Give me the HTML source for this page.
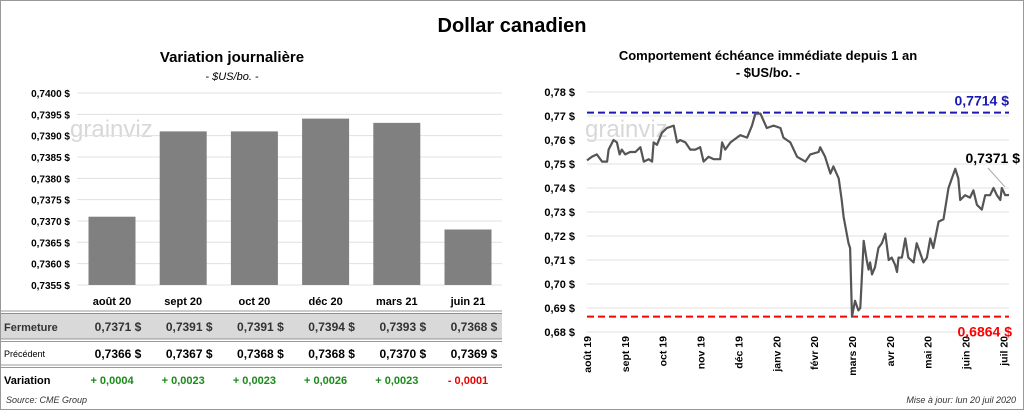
<!DOCTYPE html>
<html><head><meta charset="utf-8"><style>
body{margin:0;width:1024px;height:410px;overflow:hidden;background:#fff;font-family:"Liberation Sans",sans-serif}
svg text{font-family:"Liberation Sans",sans-serif}
</style></head><body>
<svg id="s" width="1024" height="410">
<rect x="0.5" y="0.5" width="1023" height="409" fill="#fff" stroke="#999"/>
<text x="512" y="32" text-anchor="middle" font-size="20" font-weight="bold" fill="#000">Dollar canadien</text>
<text x="232" y="62" text-anchor="middle" font-size="15" font-weight="bold">Variation  journalière</text>
<text x="232" y="80" text-anchor="middle" font-size="11" font-style="italic">- $US/bo. -</text>
<text x="768" y="60" text-anchor="middle" font-size="13" font-weight="bold">Comportement échéance immédiate depuis 1 an</text>
<text x="768" y="77" text-anchor="middle" font-size="13" font-weight="bold">- $US/bo. -</text>
<text x="70" y="137" font-size="24" fill="#d8d8d8">grainviz</text>
<text x="585" y="137" font-size="24" fill="#d8d8d8">grainviz</text>
<g id="left"></g><g id="right"></g><g id="table"></g>
<text x="6" y="403" font-size="9" font-style="italic" fill="#333">Source: CME Group</text>
<text x="1016" y="403" text-anchor="end" font-size="9" font-style="italic" fill="#333">Mise à jour: lun 20 juil 2020</text>
</svg>
<script>
const barCats=["août 20","sept 20","oct 20","déc 20","mars 21","juin 21"];
const closeVals=[0.7371,0.7391,0.7391,0.7394,0.7393,0.7368];
const prevVals=[0.7366,0.7367,0.7368,0.7368,0.7370,0.7369];
const varLabels=["+ 0,0004","+ 0,0023","+ 0,0023","+ 0,0026","+ 0,0023","- 0,0001"];
const leftTicks=[0.7400,0.7395,0.7390,0.7385,0.7380,0.7375,0.7370,0.7365,0.7360,0.7355];
const monthLabels=["août 19","sept 19","oct 19","nov 19","déc 19","janv 20","févr 20","mars 20","avr 20","mai 20","juin 20","juil 20"];
const rightTicks=[0.78,0.77,0.76,0.75,0.74,0.73,0.72,0.71,0.70,0.69,0.68];
const lineT=[0,0.13,0.26,0.40,0.53,0.57,0.70,0.79,0.86,0.92,1.01,1.14,1.28,1.41,1.50,1.63,1.72,1.76,1.85,1.98,2.11,2.29,2.38,2.46,2.60,2.73,2.86,2.99,3.08,3.21,3.35,3.52,3.57,3.65,3.79,3.96,4.05,4.23,4.36,4.45,4.58,4.75,4.93,5.11,5.19,5.37,5.55,5.77,5.90,6.12,6.16,6.29,6.43,6.51,6.65,6.73,6.78,6.91,6.95,7.00,7.08,7.17,7.22,7.31,7.39,7.44,7.48,7.53,7.61,7.70,7.79,7.88,7.97,8.05,8.14,8.19,8.23,8.32,8.41,8.49,8.63,8.71,8.80,8.89,8.98,9.07,9.15,9.29,9.42,9.55,9.64,9.73,9.81,9.86,9.99,10.12,10.21,10.30,10.43,10.52,10.65,10.74,10.83,10.92,10.96,11.05,11.15];
const lineV=[0.7515,0.753,0.754,0.751,0.751,0.756,0.760,0.759,0.754,0.756,0.754,0.755,0.755,0.757,0.751,0.752,0.751,0.759,0.758,0.763,0.765,0.766,0.759,0.760,0.759,0.756,0.756,0.757,0.751,0.753,0.752,0.752,0.759,0.756,0.759,0.761,0.762,0.761,0.766,0.771,0.771,0.765,0.766,0.765,0.761,0.759,0.753,0.751,0.754,0.755,0.757,0.753,0.746,0.749,0.744,0.735,0.728,0.717,0.715,0.6864,0.693,0.689,0.690,0.718,0.710,0.706,0.709,0.704,0.707,0.715,0.717,0.721,0.710,0.711,0.708,0.705,0.711,0.711,0.719,0.711,0.709,0.717,0.713,0.709,0.711,0.719,0.715,0.726,0.727,0.740,0.744,0.748,0.744,0.735,0.737,0.736,0.739,0.733,0.731,0.737,0.737,0.740,0.737,0.735,0.740,0.737,0.7371];
const highVal=0.7714, lowVal=0.6864, lastVal=0.7371;

const NS="http://www.w3.org/2000/svg";
function mk(tag,attrs,parent,txt){const e=document.createElementNS(NS,tag);for(const k in attrs)e.setAttribute(k,attrs[k]);if(txt!==undefined)e.textContent=txt;parent.appendChild(e);return e;}
const fmt=(v,d)=>v.toFixed(d).replace('.',',');

const L=document.getElementById('left');
const ly=v=>93+(0.7400-v)/0.0005*21.33;
const lx=i=>112+i*71.2;
leftTicks.forEach(t=>{
 const g=mk('line',{x1:77,x2:502,y1:ly(t),y2:ly(t),stroke:'#e0e0e0'},L);
 
 
 const tx=mk('text',{x:70,y:ly(t)+4,'text-anchor':'end','font-size':10,'font-weight':'bold'},L,fmt(t,4)+' $');
 
 
});
closeVals.forEach((v,i)=>{
 const b=mk('rect',{x:lx(i)-23.5,y:ly(v),width:47,height:ly(0.7355)-ly(v),fill:'#808080'},L);
 
 
});
const T=document.getElementById('table');
mk('rect',{x:1,y:313,width:501,height:26,fill:'#d9d9d9'},T);
[[311,313.5],[339,341.5],[365,367.5]].forEach(p=>p.forEach(y=>mk('line',{x1:1,x2:502,y1:y,y2:y,stroke:'#777','stroke-width':0.8},T)));
const rl=[['Fermeture',331,11,'bold'],['Précédent',357,9,'normal'],['Variation',384,11,'bold']];
rl.forEach(r=>{const t=mk('text',{x:4,y:r[1],'font-size':r[2],'font-weight':r[3],fill:r[0]==='Fermeture'?'#333':'#000'},T,r[0]);
 
 });
barCats.forEach((c,i)=>{
 const h=mk('text',{x:lx(i),y:305,'text-anchor':'middle','font-size':11,'font-weight':'bold'},T,c);
 
 
 const a=mk('text',{x:lx(i)+6,y:331,'text-anchor':'middle','font-size':12,'font-weight':'bold',fill:'#333','xml:space':'preserve'},T,fmt(closeVals[i],4)+'  $');
 
 
 const p=mk('text',{x:lx(i)+6,y:358,'text-anchor':'middle','font-size':12,'font-weight':'bold','xml:space':'preserve'},T,fmt(prevVals[i],4)+'  $');
 
 
 const vv=mk('text',{x:lx(i),y:384,'text-anchor':'middle','font-size':11,'font-weight':'bold',fill:varLabels[i][0]==='-'?'#e00':'#1a8a1a'},T,varLabels[i]);
 
 
});
const R=document.getElementById('right');
const ry=v=>92+(0.78-v)/0.01*24;
const rx=t=>587+t*37.85;
rightTicks.forEach(t=>{
 const g=mk('line',{x1:587,x2:1009,y1:ry(t),y2:ry(t),stroke:'#e0e0e0'},R);
 
 
 const tx=mk('text',{x:575,y:ry(t)+4,'text-anchor':'end','font-size':11,'font-weight':'bold'},R,fmt(t,2)+' $');
 
 
});
monthLabels.forEach((m,i)=>{
 const tx=mk('text',{transform:`translate(${rx(i)+4},${336}) rotate(-90)`,'text-anchor':'end','font-size':10.5,'font-weight':'bold'},R,m);
 
 
});
const hl=mk('line',{x1:587,x2:1009,y1:ry(highVal),y2:ry(highVal),stroke:'#1a1ab0','stroke-width':2,'stroke-dasharray':'7,4'},R);


const lo=mk('line',{x1:587,x2:1009,y1:ry(lowVal),y2:ry(lowVal),stroke:'#f00','stroke-width':2,'stroke-dasharray':'7,4'},R);


const ht=mk('text',{x:1009,y:ry(highVal)-7,'text-anchor':'end','font-size':14,'font-weight':'bold',fill:'#1a1ab0'},R,fmt(highVal,4)+' $');


const lt=mk('text',{x:1012,y:ry(lowVal)+20,'text-anchor':'end','font-size':14,'font-weight':'bold',fill:'#f00'},R,fmt(lowVal,4)+' $');


const pts=lineT.map((t,i)=>rx(t).toFixed(1)+','+ry(lineV[i]).toFixed(1)).join(' ');
const pl=mk('polyline',{points:pts,fill:'none',stroke:'#555','stroke-width':2.2,'stroke-linejoin':'round'},R);


mk('line',{x1:988,y1:168,x2:1005,y2:ry(lastVal)-8,stroke:'#aaa'},R);
const la=mk('text',{x:1020,y:163,'text-anchor':'end','font-size':14,'font-weight':'bold'},R,fmt(lastVal,4)+' $');


</script>
</body></html>
